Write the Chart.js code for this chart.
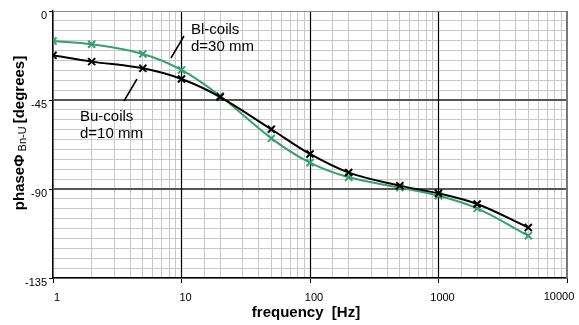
<!DOCTYPE html>
<html>
<head>
<meta charset="utf-8">
<script src="https://cdn.jsdelivr.net/npm/chart.js@4.4.1/dist/chart.umd.min.js"></script>
<style>
  html, body { margin: 0; padding: 0; background: #fff; overflow: hidden; }
</style>
</head>
<body>
<canvas id="phaseChart" width="579" height="325"></canvas>
<script>
// frequencies [Hz]
const freqs = [1, 2, 5, 10, 20, 50, 100, 200, 500, 1000, 2000, 5000];
// phase [degrees]
const buCoils = [-22.4, -25.6, -29.0, -34.4, -43.5, -59.8, -72.3, -81.7, -88.3, -92.2, -97.6, -109.5];
const blCoils = [-15.2, -16.8, -21.7, -29.8, -43.0, -64.4, -76.7, -84.1, -89.3, -93.4, -99.8, -113.6];
const yTicks = [0, -45, -90, -135];
const xTicks = [1, 10, 100, 1000, 10000];

const FONT = "'Liberation Sans', Arial, sans-serif";

function toPoints(vals) {
  return freqs.map((f, i) => ({ x: f, y: vals[i] }));
}

function isDecade(v) {
  return xTicks.includes(v);
}

// same snapping as chart.js uses for its own grid
function snap(px, w) {
  return Math.round(px - w / 2) + w / 2;
}

// major grid lines on top of the light ones, under the curves
const majorGrid = {
  id: 'majorGrid',
  beforeDatasetsDraw(chart) {
    const ctx = chart.ctx, a = chart.chartArea;
    const xs = chart.scales.x, ys = chart.scales.y;
    ctx.save();
    ctx.lineWidth = 2;
    ctx.strokeStyle = '#555';
    yTicks.slice(1, 3).forEach(v => {
      const y = snap(ys.getPixelForValue(v), 2);
      ctx.beginPath(); ctx.moveTo(a.left, y); ctx.lineTo(a.right, y); ctx.stroke();
    });
    ctx.lineWidth = 1.2;
    ctx.strokeStyle = '#000';
    xTicks.slice(1, 4).forEach(v => {
      const x = snap(xs.getPixelForValue(v), 1);
      ctx.beginPath(); ctx.moveTo(x, a.top); ctx.lineTo(x, a.bottom); ctx.stroke();
    });
    // top and right frame of the plot
    ctx.lineWidth = 1;
    ctx.strokeStyle = '#888';
    ctx.beginPath();
    ctx.moveTo(a.left, a.top + 0.5); ctx.lineTo(a.right, a.top + 0.5);
    ctx.stroke();
    ctx.strokeStyle = '#777';
    ctx.lineWidth = 2;
    ctx.beginPath();
    ctx.moveTo(a.right, a.top); ctx.lineTo(a.right, a.bottom);
    ctx.stroke();
    ctx.restore();
  }
};

// axis titles, labels and the little pointer lines
const textPlugin = {
  id: 'textPlugin',
  afterDraw(chart) {
    const ctx = chart.ctx;
    const xs = chart.scales.x, a = chart.chartArea;
    ctx.save();
    // nothing should show right of the frame
    ctx.fillStyle = '#fff';
    ctx.fillRect(a.right + 1, 0, chart.width - a.right, a.bottom + 1);
    ctx.fillStyle = '#000';

    // last x label sits inside the plot edge
    ctx.font = '11px ' + FONT;
    ctx.textAlign = 'center';
    ctx.textBaseline = 'middle';
    ctx.fillText('10000', xs.getPixelForValue(10000) - 8, 297);

    // x title
    ctx.font = 'bold 15px ' + FONT;
    ctx.fillText('frequency  [Hz]', 306, 313);

    // y title, rotated
    ctx.translate(20, 133);
    ctx.rotate(-Math.PI / 2);
    const p1 = 'phaseΦ', p2 = ' Bn-U ', p3 = '[degrees]';
    ctx.font = 'bold 15px ' + FONT;
    const w1 = ctx.measureText(p1).width, w3 = ctx.measureText(p3).width;
    ctx.font = '11px ' + FONT;
    const w2 = ctx.measureText(p2).width;
    let x0 = -(w1 + w2 + w3) / 2;
    ctx.textAlign = 'left';
    ctx.font = 'bold 15px ' + FONT;
    ctx.fillText(p1, x0, 0);
    ctx.font = '11px ' + FONT;
    ctx.fillText(p2, x0 + w1, 3);
    ctx.font = 'bold 15px ' + FONT;
    ctx.fillText(p3, x0 + w1 + w2, 0);
    ctx.setTransform(1, 0, 0, 1, 0, 0);

    // annotations
    ctx.font = '15px ' + FONT;
    ctx.textAlign = 'left';
    ctx.fillText('Bl-coils', 191, 30);
    ctx.fillText('d=30 mm', 191, 47);
    ctx.fillText('Bu-coils', 80, 117);
    ctx.fillText('d=10 mm', 80, 134);

    ctx.strokeStyle = '#000';
    ctx.lineWidth = 1.5;
    ctx.beginPath();
    ctx.moveTo(171, 58); ctx.lineTo(184, 36);
    ctx.moveTo(124, 101); ctx.lineTo(137, 79);
    ctx.stroke();
    ctx.restore();
  }
};

new Chart(document.getElementById('phaseChart'), {
  type: 'line',
  data: {
    datasets: [
      {
        label: 'Bu-coils d=10 mm',
        data: toPoints(buCoils),
        borderColor: '#000',
        backgroundColor: '#000',
        borderWidth: 2,
        pointStyle: 'crossRot',
        pointRadius: 5,
        pointBorderWidth: 2,
        tension: 0.35
      },
      {
        label: 'Bl-coils d=30 mm',
        data: toPoints(blCoils),
        borderColor: '#35a06f',
        backgroundColor: '#35a06f',
        borderWidth: 2,
        pointStyle: 'crossRot',
        pointRadius: 5,
        pointBorderWidth: 2,
        tension: 0.35
      }
    ]
  },
  options: {
    responsive: false,
    animation: false,
    layout: { padding: { left: 0, right: 12, top: 11, bottom: 0 } },
    plugins: {
      legend: { display: false },
      tooltip: { enabled: false }
    },
    scales: {
      x: {
        type: 'logarithmic',
        min: 1,
        max: 10000,
        afterFit(scale) {
          scale.height = 47;
          scale.paddingRight = 0;
          scale.paddingLeft = 0;
        },
        border: { color: '#000', width: 1.5 },
        grid: {
          color: '#c8c8c8',
          lineWidth: 1,
          tickColor: c => isDecade(c.tick.value) ? '#000' : 'rgba(0,0,0,0)',
          tickLength: 5
        },
        ticks: {
          autoSkip: false,
          maxRotation: 0,
          color: '#000',
          font: { family: FONT, size: 11 },
          labelOffset: 4,
          padding: 8,
          callback: v => (isDecade(v) && v !== 10000) ? String(v) : ''
        }
      },
      y: {
        min: -135,
        max: 0,
        afterFit(scale) { scale.width = 53; },
        border: { color: '#000', width: 1.5 },
        grid: {
          color: '#c8c8c8',
          lineWidth: 1,
          tickColor: c => yTicks.includes(c.tick.value) ? '#000' : 'rgba(0,0,0,0)',
          tickLength: 4
        },
        ticks: {
          stepSize: 5,
          autoSkip: false,
          color: '#000',
          font: { family: FONT, size: 11 },
          labelOffset: 5,
          padding: 2,
          callback: v => yTicks.includes(v) ? String(v) : ''
        }
      }
    }
  },
  plugins: [majorGrid, textPlugin]
});
</script>
</body>
</html>
